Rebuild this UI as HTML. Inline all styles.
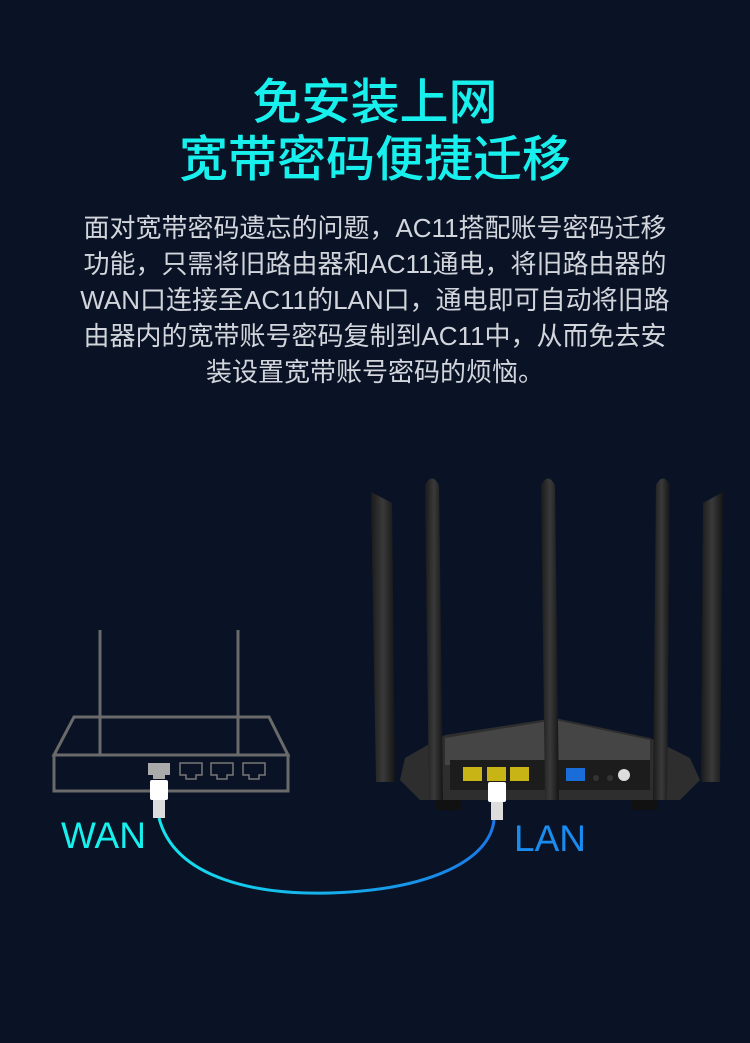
<!DOCTYPE html>
<html><head><meta charset="utf-8"><style>
html,body{margin:0;padding:0;background:#0a1325;}
body{width:750px;height:1043px;position:relative;overflow:hidden;}
.t{position:absolute;left:0;width:750px;text-align:center;color:#18f0ee;font-family:"Liberation Sans","Noto Sans CJK SC",sans-serif;font-weight:500;font-size:49px;line-height:56px;}
.p{position:absolute;left:0;width:750px;top:210px;text-align:center;color:#d2d6dc;font-family:"Liberation Sans","Noto Sans CJK SC",sans-serif;font-size:26px;line-height:36px;}
</style></head><body>
<div class="t" style="top:75px">免安装上网</div>
<div class="t" style="top:132px">宽带密码便捷迁移</div>
<div class="p">面对宽带密码遗忘的问题，AC11搭配账号密码迁移<br>功能，只需将旧路由器和AC11通电，将旧路由器的<br>WAN口连接至AC11的LAN口，通电即可自动将旧路<br>由器内的宽带账号密码复制到AC11中，从而免去安<br>装设置宽带账号密码的烦恼。</div>
<svg width="750" height="1043" style="position:absolute;left:0;top:0" xmlns="http://www.w3.org/2000/svg">
<defs><linearGradient id="c" x1="0" x2="1"><stop offset="0" stop-color="#12e6f0"/><stop offset="1" stop-color="#1a78e8"/></linearGradient>
<linearGradient id="a" x1="0" x2="1"><stop offset="0" stop-color="#1a1a1a"/><stop offset=".5" stop-color="#3a3a3a"/><stop offset="1" stop-color="#151515"/></linearGradient></defs>
<g stroke="#6a6a6a" stroke-width="3" fill="none">
<line x1="100" y1="630" x2="100" y2="755"/><line x1="238" y1="630" x2="238" y2="755"/>
<polygon points="74,717 269,717 288,755 54,755"/>
<rect x="54" y="755" width="234" height="36"/>
</g>
<rect x="148" y="763" width="22" height="12" fill="#aaa"/><rect x="153" y="775" width="12" height="4" fill="#aaa"/>
<g stroke="#777" stroke-width="1.5" fill="none">
<path d="M180 763h22v12h-6v4h-10v-4h-6z"/><path d="M211 763h22v12h-6v4h-10v-4h-6z"/><path d="M243 763h22v12h-6v4h-10v-4h-6z"/></g>
<rect x="150" y="780" width="18" height="20" rx="2" fill="#fff"/>
<rect x="153" y="800" width="12" height="18" fill="#ddd"/>
<path d="M159 818 C175 880 260 895 330 893 C430 890 490 860 494 820" stroke="url(#c)" stroke-width="3" fill="none"/>
<text x="61" y="848" fill="#18f0ee" font-family="Liberation Sans,sans-serif" font-size="37">WAN</text>
<text x="514" y="851" fill="#1a8cf0" font-family="Liberation Sans,sans-serif" font-size="37">LAN</text>
<polygon points="445,735 555,718 650,738 690,758 700,780 680,800 420,800 400,780 405,758" fill="#2e2e2e"/>
<polygon points="445,738 555,720 650,740 650,765 445,765" fill="#454545"/>
<rect x="450" y="760" width="200" height="30" fill="#1c1c1c"/>
<rect x="436" y="800" width="26" height="10" fill="#111"/><rect x="632" y="800" width="26" height="10" fill="#111"/>
<rect x="463" y="767" width="19" height="14" fill="#c8b414"/><rect x="487" y="767" width="19" height="14" fill="#c8b414"/><rect x="510" y="767" width="19" height="14" fill="#c8b414"/>
<rect x="566" y="768" width="19" height="13" fill="#1a6cd8"/>
<circle cx="596" cy="778" r="3" fill="#333"/><circle cx="610" cy="778" r="3" fill="#333"/><circle cx="624" cy="775" r="6" fill="#ddd"/>
<g fill="url(#a)">
<polygon points="371,492 392,503 395,782 376,782"/>
<path d="M425 485 Q432 472 439 485 L443 800 L429 800 Z"/>
<path d="M541 485 Q548 472 555 485 L559 800 L545 800 Z"/>
<path d="M656 485 Q663 472 670 485 L667 800 L653 800 Z"/>
<polygon points="703,503 723,492 720,782 701,782"/>
</g>
<rect x="488" y="782" width="18" height="20" rx="2" fill="#fff"/>
<rect x="491" y="802" width="12" height="18" fill="#ddd"/>
</svg>
</body></html>
